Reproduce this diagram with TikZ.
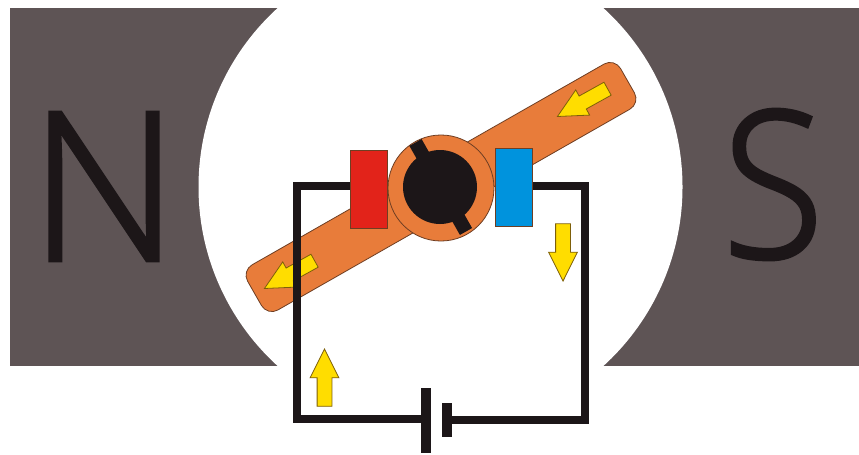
\documentclass[tikz,border=0pt]{standalone}
\usepackage{fontspec}
\usepackage{xcolor}
\usetikzlibrary{shapes, arrows, positioning, calc}
\newfontfamily\northfont[FakeBold=2]{Open Sans Light}
\newfontfamily\southfont[FakeBold=2,FakeStretch=0.9]{Open Sans Light}
\definecolor{polegray}{RGB}{94, 84, 85}
\definecolor{rotororange}{RGB}{232, 124, 58}
\definecolor{rotoredge}{RGB}{110, 62, 35}
\definecolor{brushred}{RGB}{226, 35, 26}
\definecolor{brushblue}{RGB}{0, 147, 221}
\definecolor{wireblack}{RGB}{28, 22, 24}
\definecolor{currentyellow}{RGB}{255, 221, 0}
\definecolor{currentedge}{RGB}{125, 95, 10}

\begin{document}
\begin{tikzpicture}[
						x=0.75pt, y=-0.75pt,
						letter/.style={text=wireblack, inner sep=0pt},
						brush/.style={draw=rotoredge, line width=0.5pt, minimum width=27.5pt, minimum height=58.5pt, inner sep=0pt},
						plate/.style={fill=wireblack, minimum width=7pt, inner sep=0pt},
						wire/.style={draw=wireblack, line width=6.5pt},
						current/.style={single arrow, draw=currentedge, fill=currentyellow, line width=0.6pt, inner sep=5.25pt,
							minimum height=43pt, single arrow head extend=5.25pt, single arrow tip angle=53}
					]
					\useasboundingbox (0,0) rectangle (859,454);

					% Magnet
					\fill[polegray] (10,8) rectangle (859,366);
					\fill[white] (440.5,187) circle [radius=242];
					\node[letter, font=\northfont\fontsize{155pt}{155pt}\selectfont] (north) at (104,186.5) {N};
					\node[letter, font=\southfont\fontsize{153pt}{153pt}\selectfont] (south) at (773,184.5) {S};

					% Rotor
					\node[draw=rotoredge, fill=rotororange, line width=0.6pt, rounded corners=9pt, rotate=29.7, minimum width=322pt, minimum height=39pt] (rotor) at (441,187) {};
					\node[current, rotate=209] (arrowtop) at (589,99) {};
					\node[current, rotate=209] (arrowbottom) at (296,271) {};
					\node[circle, draw=rotoredge, fill=rotororange, line width=0.6pt, minimum size=79.5pt, inner sep=0pt] (ring) at (441,188) {};
					\draw[wireblack, line width=10.5pt] (415.5,142.5) -- (466,231.5);
					\node[circle, fill=wireblack, minimum size=55.5pt, inner sep=0pt] (shaft) at (440,187) {};

					% Circuit
					\coordinate (cornerTL) at (297,186);
					\coordinate (cornerBL) at (297,419);
					\coordinate (cornerTR) at (585,186);
					\coordinate (cornerBR) at (585,420);
					\node[plate, minimum height=48.75pt] (plateL) at (426,420.5) {};
					\node[plate, minimum height=25.5pt] (plateR) at (447,420) {};
					\node[brush, fill=brushred] (brushL) at (368.5,189) {};
					\node[brush, fill=brushblue] (brushR) at (514,187.5) {};
					\draw[wire] (cornerTL -| brushL.west) -- (cornerTL) -- (cornerBL) -- (cornerBL -| plateL.west);
					\draw[wire] (cornerTR -| brushR.east) -- (cornerTR) -- (cornerBR) -- (cornerBR -| plateR.east);

					% Current
					\node[current, rotate=90] (arrowup) at (324.5,385) {};
					\node[current, rotate=-90] (arrowdown) at (563,245) {};
				\end{tikzpicture}
\end{document}
